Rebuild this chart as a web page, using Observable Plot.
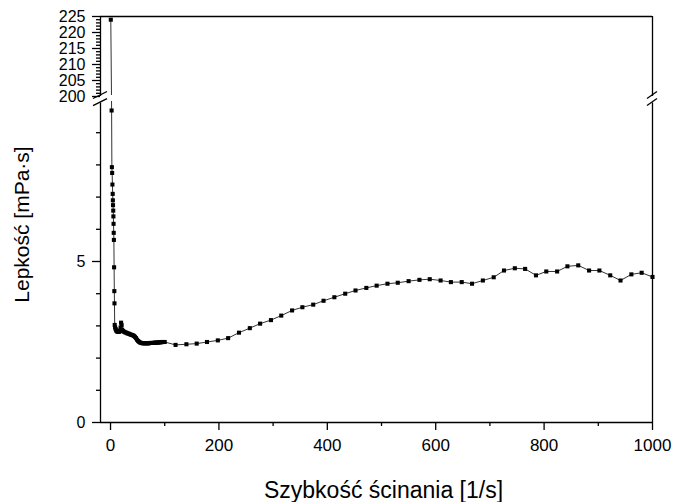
<!DOCTYPE html>
<html>
<head>
<meta charset="utf-8">
<script src="https://cdn.jsdelivr.net/npm/d3@7"></script>
<script src="https://cdn.jsdelivr.net/npm/@observablehq/plot@0.6"></script>
<style>
  html, body { margin: 0; padding: 0; background: white; }
</style>
</head>
<body>
<div id="chart"></div>
<script>
// Shear rate [1/s]
const shearRate = [
  0.5, 2, 2.5, 3, 3.5, 4, 4.3, 4.6, 5, 5.3, 5.6, 5.9, 6.2, 6.6, 7, 7.3, 7.7,
  8.5, 9.5, 10.5, 11.5, 12.5, 13.5, 14.5, 15.5, 16.5, 17.5, 18.5, 19.5, 20.5, 21.5,
  23, 25, 27, 29, 31, 33, 35, 37, 39, 41, 43, 45, 47, 49, 51, 53, 55, 57, 59,
  61, 63, 65, 67, 69, 71, 73, 75, 77, 79, 81, 83, 85, 87, 89, 91, 93, 95, 97, 100,
  120, 140, 159, 178, 198, 217, 237, 257, 276, 296, 315, 335, 354, 374, 393, 413,
  433, 452, 472, 491, 511, 530, 550, 570, 589, 609, 628, 648, 667, 687, 707, 726,
  746, 765, 785, 804, 824, 843, 863, 883, 902, 922, 941, 961, 980, 1000
];
// Viscosity [mPa·s]
const viscosity = [
  224, 9.69, 7.93, 7.75, 7.39, 7.1, 6.9, 6.75, 6.58, 6.4, 6.17, 5.89, 5.67, 4.82, 4.08, 3.70, 3.03,
  2.95, 2.90, 2.86, 2.84, 2.83, 2.82, 2.82, 2.82, 2.83, 2.85, 2.95, 3.10, 3.02, 2.88,
  2.84, 2.82, 2.80, 2.79, 2.77, 2.76, 2.75, 2.73, 2.72, 2.71, 2.69, 2.66, 2.62, 2.57, 2.53, 2.50, 2.48, 2.47, 2.46,
  2.46, 2.46, 2.46, 2.46, 2.46, 2.46, 2.47, 2.47, 2.47, 2.47, 2.48, 2.48, 2.48, 2.48, 2.49, 2.49, 2.49, 2.50, 2.50, 2.50,
  2.41, 2.43, 2.45, 2.50, 2.55, 2.62, 2.79, 2.93, 3.07, 3.18, 3.32, 3.48, 3.58, 3.66, 3.78, 3.89,
  4.00, 4.10, 4.18, 4.25, 4.31, 4.34, 4.39, 4.43, 4.45, 4.41, 4.36, 4.36, 4.31, 4.41, 4.51, 4.72,
  4.79, 4.77, 4.57, 4.69, 4.69, 4.85, 4.88, 4.72, 4.72, 4.57, 4.41, 4.60, 4.65, 4.52
];

const xTicks = [0, 200, 400, 600, 800, 1000];
const xMinorTicks = [100, 300, 500, 700, 900];
const yTicks = [0, 5, 200, 205, 210, 215, 220, 225];
const yMinorTicks = [1, 2, 3, 4, 6, 7, 8, 9,
  201, 202, 203, 204, 206, 207, 208, 209, 211, 212, 213, 214,
  216, 217, 218, 219, 221, 222, 223, 224];

const xTitle = "Szybkość ścinania [1/s]";
const yTitle = "Lepkość [mPa·s]";

const xMin = -18.5, xMax = 1000;
const lowerTop = 9.92, upperBottom = 200, upperTop = 225;

const data = shearRate.map((x, i) => ({x, y: viscosity[i]}));

// white gap across the data line at the axis break
const gapMask = (index, scales) => {
  const g = d3.create("svg:g");
  const x0 = scales.x(-6), x1 = scales.x(9);
  const ya = scales.y(upperBottom) - 1, yb = scales.y(10) + 1;
  g.append("rect").attr("x", x0).attr("y", ya).attr("width", x1 - x0).attr("height", yb - ya).attr("fill", "white");
  return g.node();
};

// double-slash break marks on left and right axes
const breakMarks = (index, scales) => {
  const g = d3.create("svg:g").attr("stroke", "black").attr("stroke-width", 1.3).attr("fill", "none");
  const yu = scales.y(upperBottom) - 1;
  const yl = scales.y(lowerTop) - 0.5;
  for (const xv of [xMin, xMax]) {
    const X = scales.x(xv);
    const w = xv === xMin ? 7 : 5;
    for (const yc of [yu, yl]) {
      g.append("path").attr("d", `M${X - w},${yc + 3.5}L${X + w},${yc - 3.5}`);
    }
  }
  return g.node();
};

const chart = Plot.plot({
  width: 674,
  height: 502,
  marginLeft: 100,
  marginRight: 22,
  marginTop: 16,
  marginBottom: 80,
  x: {type: "linear", domain: [xMin, xMax], label: null},
  y: {type: "linear", domain: [0, 10, upperBottom, upperTop], range: [422, 100, 96, 16], label: null},
  style: {fontFamily: "'Liberation Sans', Arial, sans-serif", fontSize: "17px", background: "white", color: "black"},
  marks: [
    Plot.line(data, {x: "x", y: "y", stroke: "#333", strokeWidth: 1}),
    gapMask,
    Plot.dot(data, {x: "x", y: "y", symbol: "square", r: 2.3, fill: "black"}),
    // frame
    Plot.ruleY([0], {x1: xMin, x2: xMax, stroke: "black", strokeWidth: 1.3}),
    Plot.ruleY([upperTop], {x1: xMin, x2: xMax, stroke: "black", strokeWidth: 1.3}),
    Plot.ruleX([xMin, xMax], {y1: 0, y2: lowerTop, stroke: "black", strokeWidth: 1.3}),
    Plot.ruleX([xMin, xMax], {y1: upperBottom, y2: upperTop, stroke: "black", strokeWidth: 1.3}),
    breakMarks,
    // axes
    Plot.axisX(xTicks, {tickSize: 8, tickPadding: 8, fontSize: 17, strokeWidth: 1.3, tickFormat: d => String(d), label: null}),
    Plot.axisX(xMinorTicks, {tickSize: 4, tickFormat: () => "", strokeWidth: 1.3, label: null}),
    Plot.axisY(yTicks, {tickSize: 8, tickPadding: 7, fontSize: 16, strokeWidth: 1.3, tickFormat: d => String(d), label: null}),
    Plot.axisY(yMinorTicks, {tickSize: 4, tickFormat: () => "", strokeWidth: 1.3, label: null}),
    // titles
    Plot.text([xTitle], {frameAnchor: "bottom", dx: 7, dy: 68, fontSize: 23, textAnchor: "middle", lineAnchor: "middle", text: d => d}),
    Plot.text([yTitle], {frameAnchor: "left", dx: -78, dy: 5, rotate: -90, fontSize: 21, textAnchor: "middle", lineAnchor: "middle", text: d => d})
  ]
});

document.getElementById("chart").appendChild(chart);
</script>
</body>
</html>
